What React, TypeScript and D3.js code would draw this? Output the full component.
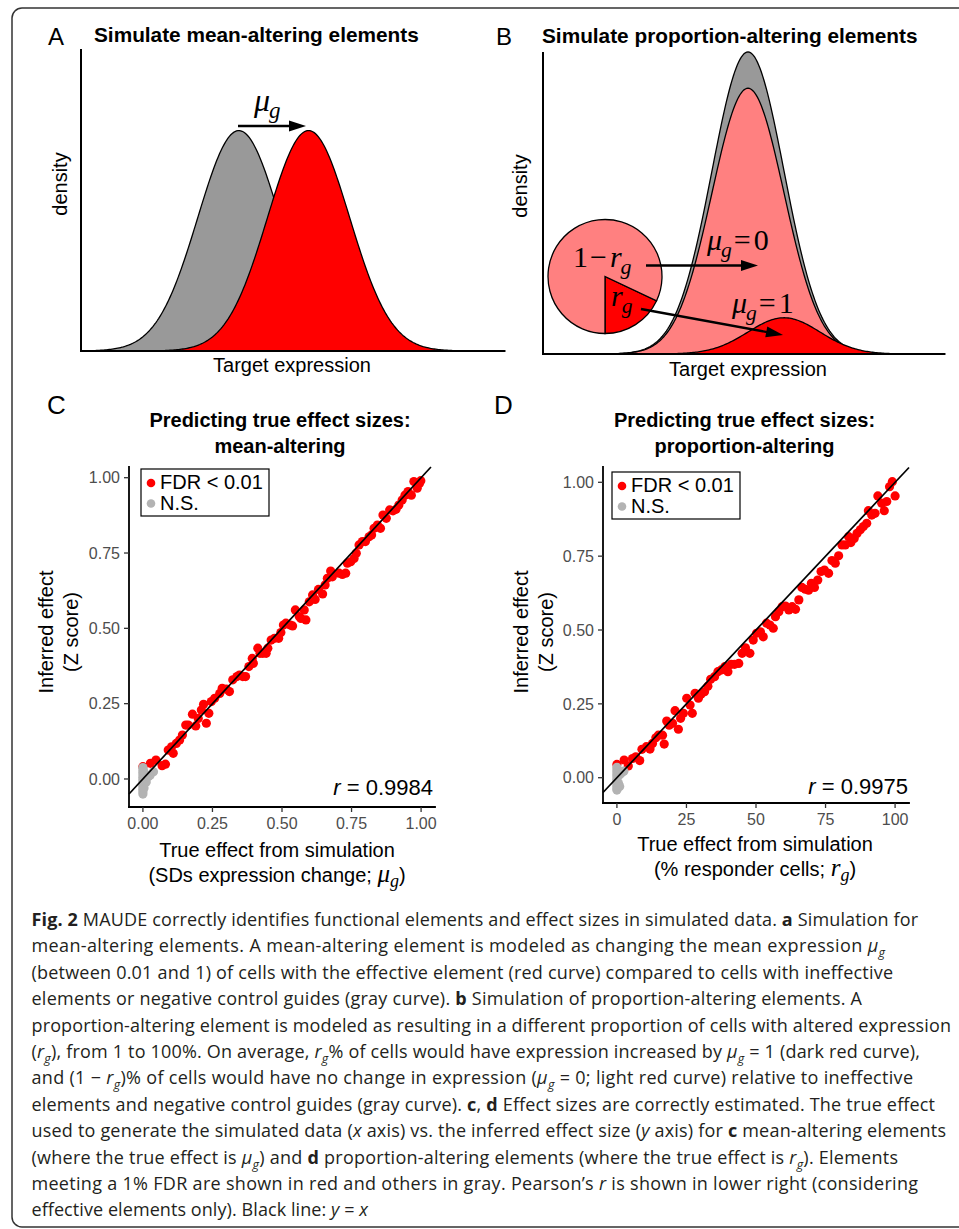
import * as d3 from 'd3'

const W = 959
const H = 1229
const SANS = '"Liberation Sans", Arial, Helvetica, sans-serif'
const SERIF = '"Liberation Serif", "Times New Roman", serif'
const CAP = '"Open Sans", sans-serif'

// panel A: control vs mean-shifted element (in SD units)
const meanCurves = [
  { key: 'control', mean: 0, sd: 1, weight: 1, fill: '#999999' },
  { key: 'effective', mean: 1.7, sd: 1, weight: 1, fill: '#ff0000' },
]

// panel B: proportion-altering element, r_g ~ 0.12
const propCurves = [
  { key: 'control', mean: 0, sd: 1, weight: 1, fill: '#999999' },
  { key: 'nonResponders', mean: 0, sd: 1, weight: 0.88, fill: '#ff8080' },
  { key: 'responders', mean: 1, sd: 1, weight: 0.12, fill: '#ff0000' },
]

const pieSlices = [
  { key: 'r', value: 0.18, fill: '#ff0000' },
  { key: 'oneMinusR', value: 0.82, fill: '#ff8080' },
]

// panel C: true effect (SDs) vs inferred effect
const redC: [number, number][] = [
  [0.0, 0.041], [0.027, 0.052], [0.047, 0.063], [0.069, 0.044], [0.081, 0.049],
  [0.091, 0.096], [0.103, 0.107], [0.109, 0.085], [0.12, 0.118], [0.132, 0.129],
  [0.142, 0.146], [0.154, 0.179], [0.163, 0.179], [0.178, 0.215], [0.19, 0.176],
  [0.199, 0.201], [0.21, 0.229], [0.218, 0.248], [0.228, 0.185], [0.237, 0.218],
  [0.246, 0.257], [0.258, 0.268], [0.276, 0.284], [0.285, 0.301], [0.3, 0.298],
  [0.311, 0.29], [0.323, 0.329], [0.338, 0.34], [0.347, 0.345], [0.359, 0.34],
  [0.369, 0.34], [0.381, 0.373], [0.393, 0.4], [0.397, 0.384], [0.413, 0.434],
  [0.421, 0.417], [0.431, 0.417], [0.443, 0.417], [0.449, 0.434], [0.461, 0.461],
  [0.473, 0.467], [0.488, 0.467], [0.496, 0.486], [0.505, 0.511], [0.514, 0.517],
  [0.53, 0.511], [0.538, 0.508], [0.548, 0.561], [0.562, 0.539], [0.568, 0.533],
  [0.586, 0.528], [0.58, 0.561], [0.598, 0.588], [0.61, 0.611], [0.619, 0.596],
  [0.631, 0.629], [0.646, 0.614], [0.655, 0.644], [0.663, 0.666], [0.675, 0.69],
  [0.681, 0.671], [0.705, 0.683], [0.717, 0.679], [0.729, 0.683], [0.735, 0.716],
  [0.747, 0.721], [0.759, 0.732], [0.767, 0.749], [0.777, 0.777], [0.789, 0.788],
  [0.8, 0.788], [0.813, 0.804], [0.822, 0.81], [0.831, 0.832], [0.843, 0.843],
  [0.854, 0.832], [0.863, 0.876], [0.875, 0.865], [0.887, 0.893], [0.899, 0.89],
  [0.91, 0.895], [0.92, 0.909], [0.932, 0.926], [0.942, 0.942], [0.953, 0.954],
  [0.965, 0.942], [0.974, 0.987], [0.986, 0.965], [0.994, 0.981], [0.999, 0.99],
]
const grayC: [number, number][] = [
  [0, 0.038], [0, 0.03], [0, 0.022], [0, 0.014], [0, 0.006], [0, -0.002],
  [0, -0.01], [0, -0.018], [0, -0.026], [0, -0.034], [0, -0.042], [0, -0.05],
  [0.003, 0.025], [0.004, -0.03], [0.006, 0.005], [0.01, 0.015], [0.012, -0.01],
  [0.02, 0.008], [0.026, 0.012], [0.038, 0.024],
]

// panel D: true effect (% responders) vs inferred effect
const redD: [number, number][] = [
  [0, 0.045], [2.6, 0.06], [4.1, 0.04], [5.6, 0.065], [6.8, 0.071], [8.2, 0.058],
  [9.0, 0.096], [10.6, 0.105], [11.9, 0.097], [12.8, 0.116], [14.0, 0.135],
  [14.9, 0.144], [16.4, 0.144], [17.0, 0.114], [17.9, 0.192], [18.8, 0.178],
  [20.0, 0.184], [20.9, 0.227], [22.1, 0.164], [22.9, 0.201], [23.9, 0.218],
  [25.1, 0.269], [26.3, 0.246], [27.1, 0.218], [28.1, 0.286], [29.3, 0.269],
  [30.3, 0.283], [31.5, 0.291], [32.7, 0.31], [33.7, 0.333], [35.1, 0.342],
  [36.3, 0.359], [37.5, 0.365], [38.8, 0.376], [39.9, 0.359], [41.1, 0.384],
  [42.3, 0.384], [43.8, 0.387], [45.0, 0.421], [46.2, 0.44], [47.8, 0.421],
  [49.0, 0.466], [50.2, 0.489], [51.6, 0.494], [52.6, 0.477], [53.8, 0.523],
  [55.0, 0.517], [56.2, 0.506], [57.0, 0.545], [58.2, 0.562], [59.4, 0.579],
  [60.6, 0.581], [61.8, 0.568], [63.0, 0.579], [64.2, 0.57], [65.4, 0.602],
  [66.5, 0.644], [67.7, 0.638], [68.9, 0.635], [69.9, 0.658], [71.0, 0.644],
  [72.2, 0.669], [73.4, 0.698], [74.6, 0.703], [76.1, 0.692], [77.3, 0.735],
  [78.5, 0.726], [79.7, 0.751], [80.9, 0.788], [82.1, 0.788], [83.3, 0.816],
  [84.1, 0.796], [85.3, 0.81], [86.3, 0.827], [87.5, 0.839], [88.6, 0.85],
  [89.8, 0.861], [90.4, 0.904], [91.6, 0.889], [92.8, 0.895], [93.8, 0.954],
  [95.2, 0.929], [96.1, 0.904], [97.0, 0.935], [98.0, 0.985], [99.0, 1.002],
  [100, 0.954],
]
const grayD: [number, number][] = [
  [0, 0.035], [0, 0.027], [0, 0.019], [0, 0.011], [0, 0.003], [0, -0.005],
  [0, -0.013], [0, -0.021], [0, -0.029], [0, -0.037], [0, -0.042], [0.5, 0.02],
  [0.6, -0.02], [1, 0.01], [1, -0.03], [1.5, 0.015], [2, 0.02], [2.5, 0.022],
]

const yTicks = [0, 0.25, 0.5, 0.75, 1]
const xTicksC = [0, 0.25, 0.5, 0.75, 1]
const xTicksD = [0, 25, 50, 75, 100]
const legendItems = [
  { label: 'FDR < 0.01', color: '#ff0000' },
  { label: 'N.S.', color: '#b3b3b3' },
]

type Seg = [string, '' | 'b' | 'i' | 's']
const captionLines: Seg[][] = [
  [['Fig. 2', 'b'], [' MAUDE correctly identifies functional elements and effect sizes in simulated data. ', ''], ['a', 'b'], [' Simulation for', '']],
  [['mean-altering elements. A mean-altering element is modeled as changing the mean expression ', ''], ['μ', 'i'], ['g', 's']],
  [['(between 0.01 and 1) of cells with the effective element (red curve) compared to cells with ineffective', '']],
  [['elements or negative control guides (gray curve). ', ''], ['b', 'b'], [' Simulation of proportion-altering elements. A', '']],
  [['proportion-altering element is modeled as resulting in a different proportion of cells with altered expression', '']],
  [['(', ''], ['r', 'i'], ['g', 's'], ['), from 1 to 100%. On average, ', ''], ['r', 'i'], ['g', 's'], ['% of cells would have expression increased by ', ''], ['μ', 'i'], ['g', 's'], [' = 1 (dark red curve),', '']],
  [['and (1 − ', ''], ['r', 'i'], ['g', 's'], [')% of cells would have no change in expression (', ''], ['μ', 'i'], ['g', 's'], [' = 0; light red curve) relative to ineffective', '']],
  [['elements and negative control guides (gray curve). ', ''], ['c', 'b'], [', ', ''], ['d', 'b'], [' Effect sizes are correctly estimated. The true effect', '']],
  [['used to generate the simulated data (', ''], ['x', 'i'], [' axis) vs. the inferred effect size (', ''], ['y', 'i'], [' axis) for ', ''], ['c', 'b'], [' mean-altering elements', '']],
  [['(where the true effect is ', ''], ['μ', 'i'], ['g', 's'], [') and ', ''], ['d', 'b'], [' proportion-altering elements (where the true effect is ', ''], ['r', 'i'], ['g', 's'], ['). Elements', '']],
  [['meeting a 1% FDR are shown in red and others in gray. Pearson’s ', ''], ['r', 'i'], [' is shown in lower right (considering', '']],
  [['effective elements only). Black line: ', ''], ['y', 'i'], [' = ', ''], ['x', 'i']],
]
const captionRight = [918, 885, 893, 862, 951, 920, 913, 935, 946, 898, 918, 368]

function normalPdf(v: number, mean: number, sd: number) {
  const z = (v - mean) / sd
  return Math.exp(-0.5 * z * z) / (sd * Math.sqrt(2 * Math.PI))
}

function DensityArea({ c, x, y }: any) {
  const [lo, hi] = x.domain()
  const grid = d3.range(0, 301).map(i => lo + ((hi - lo) * i) / 300)
  const area = d3.area<number>()
    .x(v => x(v))
    .y0(y(0))
    .y1(v => y(c.weight * normalPdf(v, c.mean, c.sd)))
  return <path d={area(grid) || ''} fill={c.fill} stroke="#000" strokeWidth={1.3} />
}

function Arrow({ x1, y1, x2, y2 }: any) {
  const ang = Math.atan2(y2 - y1, x2 - x1)
  const len = 17
  const hw = 5.5
  const bx = x2 - len * Math.cos(ang)
  const by = y2 - len * Math.sin(ang)
  const px = -Math.sin(ang) * hw
  const py = Math.cos(ang) * hw
  return (
    <g>
      <line x1={x1} y1={y1} x2={bx + 2 * Math.cos(ang)} y2={by + 2 * Math.sin(ang)} stroke="#000" strokeWidth={2.3} />
      <path d={`M${x2},${y2}L${bx + px},${by + py}L${bx - px},${by - py}Z`} fill="#000" />
    </g>
  )
}

// italic symbol with subscript g, optionally followed by "=<value>"
function MathSub({ x, y, base, sub, value, size }: any) {
  const shift = size * 0.22
  return (
    <text x={x} y={y} fontFamily={SERIF} fontSize={size}>
      <tspan fontStyle="italic">{base}</tspan>
      <tspan fontStyle="italic" fontSize={size * 0.72} dy={shift} dx={-1}>{sub}</tspan>
      {value !== undefined ? <tspan dy={-shift} dx={2}>=</tspan> : null}
      {value !== undefined ? <tspan dx={3}>{value}</tspan> : null}
    </text>
  )
}

function PanelA() {
  const x = d3.scaleLinear().domain([-3.85, 6.49]).range([81, 505])
  const y = d3.scaleLinear().domain([0, 0.5466]).range([351, 49])
  return (
    <g>
      <text x={48} y={45} fontFamily={SANS} fontSize={24}>A</text>
      <text x={94} y={42} fontFamily={SANS} fontSize={20.8} fontWeight="bold">Simulate mean-altering elements</text>
      {meanCurves.map(c => <DensityArea key={c.key} c={c} x={x} y={y} />)}
      <line x1={81} y1={49} x2={81} y2={351} stroke="#000" strokeWidth={2} />
      <line x1={80} y1={351} x2={505} y2={351} stroke="#000" strokeWidth={2} />
      <text transform="translate(67,184) rotate(-90)" textAnchor="middle" fontFamily={SANS} fontSize={20}>density</text>
      <text x={292} y={372} textAnchor="middle" fontFamily={SANS} fontSize={20}>Target expression</text>
      <Arrow x1={238} y1={126} x2={306} y2={126} />
      <MathSub x={254} y={111} base="μ" sub="g" size={32} />
    </g>
  )
}

function PanelB() {
  const x = d3.scaleLinear().domain([-5.694, 5.472]).range([543, 945])
  const y = d3.scaleLinear().domain([0, normalPdf(0, 0, 1)]).range([354, 52])
  const rSlice = pieSlices[0].value
  const start = Math.PI - 2 * Math.PI * rSlice
  const pie = d3.pie<any>().sort(null).value(d => d.value).startAngle(start).endAngle(start + 2 * Math.PI)
  const arc = d3.arc<any>().innerRadius(0).outerRadius(57)
  return (
    <g>
      <text x={496} y={45} fontFamily={SANS} fontSize={24}>B</text>
      <text x={542} y={42.5} fontFamily={SANS} fontSize={20.8} fontWeight="bold">Simulate proportion-altering elements</text>
      {propCurves.map(c => <DensityArea key={c.key} c={c} x={x} y={y} />)}
      <line x1={543} y1={52} x2={543} y2={354} stroke="#000" strokeWidth={2} />
      <line x1={542} y1={354} x2={945} y2={354} stroke="#000" strokeWidth={2} />
      <text transform="translate(527,186) rotate(-90)" textAnchor="middle" fontFamily={SANS} fontSize={20}>density</text>
      <text x={748} y={376} textAnchor="middle" fontFamily={SANS} fontSize={20}>Target expression</text>
      <g transform="translate(605,276.5)">
        {pie(pieSlices).map(s => (
          <path key={s.data.key} d={arc(s) || ''} fill={s.data.fill} stroke="#000" strokeWidth={1.3} />
        ))}
      </g>
      <text x={573} y={267} fontFamily={SERIF} fontSize={30}>
        <tspan>1</tspan>
        <tspan dx={2}>−</tspan>
        <tspan dx={3} fontStyle="italic">r</tspan>
        <tspan fontStyle="italic" fontSize={22} dy={7} dx={-1}>g</tspan>
      </text>
      <MathSub x={611} y={306} base="r" sub="g" size={30} />
      <MathSub x={707} y={250} base="μ" sub="g" value="0" size={30} />
      <MathSub x={732} y={313} base="μ" sub="g" value="1" size={30} />
      <Arrow x1={646} y1={265.5} x2={758} y2={265.5} />
      <Arrow x1={641} y1={309} x2={783} y2={335} />
    </g>
  )
}

function ScatterPanel(p: any) {
  const x = d3.scaleLinear().domain(p.xDomain).range([p.left, p.right])
  const y = d3.scaleLinear().domain(p.yDomain).range([p.bottom, p.top])
  const xStart = p.xDomain[0]
  const xEnd = Math.min(p.xDomain[1], p.yDomain[1] / p.slope)
  const lg = p.legend
  return (
    <g fontFamily={SANS}>
      <text x={p.labelX} y={414} fontSize={26}>{p.label}</text>
      {p.title.map((t: string, i: number) => (
        <text key={i} x={p.titleX} y={427 + i * 26} textAnchor="middle" fontSize={20} fontWeight="bold">{t}</text>
      ))}
      {p.red.map(([a, b]: number[], i: number) => (
        <circle key={'r' + i} cx={x(a)} cy={y(b)} r={4.6} fill="#ff0000" />
      ))}
      {p.gray.map(([a, b]: number[], i: number) => (
        <circle key={'g' + i} cx={x(a)} cy={y(b)} r={4.6} fill="#b3b3b3" />
      ))}
      <line x1={x(xStart)} y1={y(xStart * p.slope)} x2={x(xEnd)} y2={y(xEnd * p.slope)} stroke="#000" strokeWidth={1.7} />
      <line x1={p.left} y1={p.top} x2={p.left} y2={p.bottom} stroke="#000" strokeWidth={1.8} strokeLinecap="square" />
      <line x1={p.left} y1={p.bottom} x2={p.right} y2={p.bottom} stroke="#000" strokeWidth={1.8} strokeLinecap="square" />
      {yTicks.map(t => (
        <g key={'yt' + t}>
          <line x1={p.left - 5} x2={p.left} y1={y(t)} y2={y(t)} stroke="#333" strokeWidth={1.3} />
          <text x={p.left - 9} y={y(t)} dy="0.36em" textAnchor="end" fontSize={16} fill="#4d4d4d">{d3.format('.2f')(t)}</text>
        </g>
      ))}
      {p.xTicks.map((t: number) => (
        <g key={'xt' + t}>
          <line x1={x(t)} x2={x(t)} y1={p.bottom} y2={p.bottom + 5} stroke="#333" strokeWidth={1.3} />
          <text x={x(t)} y={p.bottom + 22} textAnchor="middle" fontSize={16} fill="#4d4d4d">{p.xFmt(t)}</text>
        </g>
      ))}
      <rect x={lg.x} y={lg.y} width={128} height={47} fill="#fff" stroke="#000" strokeWidth={1.2} />
      {legendItems.map((it, i) => (
        <g key={it.label}>
          <circle cx={lg.x + 10} cy={lg.y + 14 + i * 20.5} r={4.3} fill={it.color} />
          <text x={lg.x + 19} y={lg.y + 20.3 + i * 20.7} fontSize={20}>{it.label}</text>
        </g>
      ))}
      <text x={p.rX} y={p.rY} textAnchor="end" fontSize={22}>
        <tspan fontStyle="italic">r</tspan> = {p.r}
      </text>
      {p.yTitle.map((t: string, i: number) => (
        <text key={i} transform={`translate(${p.yTitleX[i]},632) rotate(-90)`} textAnchor="middle" fontSize={20}>{t}</text>
      ))}
      <text x={p.xTitleX} y={p.xTitleY[0]} textAnchor="middle" fontSize={20}>True effect from simulation</text>
      <text x={p.xTitleX} y={p.xTitleY[1]} textAnchor="middle" fontSize={20}>
        <tspan>{p.xTitle2}</tspan>
        <tspan fontFamily={SERIF} fontStyle="italic" fontSize={25}>{p.mathBase}</tspan>
        <tspan fontFamily={SERIF} fontStyle="italic" fontSize={18} dy={5}>g</tspan>
        <tspan dy={-5}>)</tspan>
      </text>
    </g>
  )
}

function Caption() {
  return (
    <g fontFamily={CAP} fontSize={18} fill="#231f20">
      {captionLines.map((segs, i) => {
        let shifted = false
        return (
          <text key={i} x={31.5} y={926 + i * 26.4} textLength={captionRight[i] - 31.5} lengthAdjust="spacing" style={{ whiteSpace: 'pre' }}>
            {segs.map(([t, s], j) => {
              let dy = 0
              if (s === 's' && !shifted) { dy = 5; shifted = true }
              else if (s !== 's' && shifted) { dy = -5; shifted = false }
              return (
                <tspan key={j} dy={dy || undefined}
                  fontWeight={s === 'b' ? 'bold' : undefined}
                  fontStyle={s === 'i' || s === 's' ? 'italic' : undefined}
                  fontSize={s === 's' ? 12.5 : undefined}>{t}</tspan>
              )
            })}
          </text>
        )
      })}
    </g>
  )
}

export default function App() {
  return (
    <svg width={W} height={H} style={{ position: 'absolute', left: 0, top: 0, display: 'block', background: '#fff' }}>
      <rect x={0} y={0} width={W} height={H} fill="#fff" />
      <rect x={12} y={8} width={975} height={1219} rx={10} fill="none" stroke="#333" strokeWidth={1.5} />
      <PanelA />
      <PanelB />
      <ScatterPanel
        label="C" labelX={47}
        title={['Predicting true effect sizes:', 'mean-altering']} titleX={280}
        left={129} right={435} top={467} bottom={807}
        xDomain={[-0.05, 1.05]} yDomain={[-0.093, 1.0355]}
        xTicks={xTicksC} xFmt={d3.format('.2f')}
        red={redC} gray={grayC} slope={1}
        legend={{ x: 141, y: 469 }}
        r="0.9984" rX={433} rY={795}
        yTitle={['Inferred effect', '(Z score)']} yTitleX={[53, 78]}
        xTitleX={277} xTitleY={[857, 882]}
        xTitle2="(SDs expression change; " mathBase="μ"
      />
      <ScatterPanel
        label="D" labelX={494}
        title={['Predicting true effect sizes:', 'proportion-altering']} titleX={744.5}
        left={603} right={909} top={467} bottom={803}
        xDomain={[-5, 105]} yDomain={[-0.0856, 1.0518]}
        xTicks={xTicksD} xFmt={d3.format('d')}
        red={redD} gray={grayD} slope={0.01}
        legend={{ x: 612, y: 472 }}
        r="0.9975" rX={908} rY={794}
        yTitle={['Inferred effect', '(Z score)']} yTitleX={[528, 553]}
        xTitleX={755} xTitleY={[851, 876]}
        xTitle2="(% responder cells; " mathBase="r"
      />
      <Caption />
    </svg>
  )
}
